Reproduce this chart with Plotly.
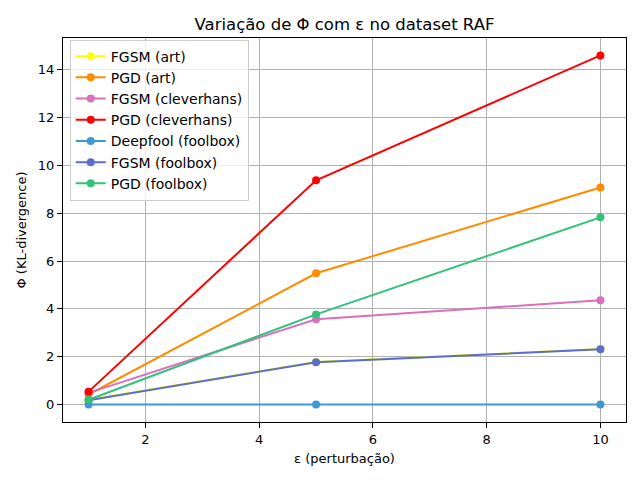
import plotly.graph_objects as go

# epsilon values (x axis)
eps = [1, 5, 10]

series_names = [
    "FGSM (art)",
    "PGD (art)",
    "FGSM (cleverhans)",
    "PGD (cleverhans)",
    "Deepfool (foolbox)",
    "FGSM (foolbox)",
    "PGD (foolbox)",
]

fgsm_art = [0.2, 1.78, 2.32]
pgd_art = [0.42, 5.49, 9.08]
fgsm_cleverhans = [0.49, 3.57, 4.36]
pgd_cleverhans = [0.54, 9.38, 14.6]
deepfool_foolbox = [0.0, 0.0, 0.0]
fgsm_foolbox = [0.18, 1.77, 2.31]
pgd_foolbox = [0.2, 3.77, 7.83]

series_values = [
    fgsm_art, pgd_art, fgsm_cleverhans, pgd_cleverhans,
    deepfool_foolbox, fgsm_foolbox, pgd_foolbox,
]
colors = ["#ffff00", "#ff8c00", "#da6fbf", "#ff0000", "#3f98d4", "#5b6dcd", "#33c27a"]

fig = go.Figure()
for name, vals, col in zip(series_names, series_values, colors):
    fig.add_trace(go.Scatter(
        x=eps, y=vals, name=name, mode="lines+markers",
        line=dict(color=col, width=2),
        marker=dict(color=col, size=8),
    ))

axis_common = dict(
    showline=True, linecolor="black", linewidth=1, mirror=True,
    ticks="outside", ticklen=5, tickcolor="black",
    showgrid=True, gridcolor="#b0b0b0", gridwidth=1, zeroline=False,
    tickfont=dict(size=13, color="black"), automargin=False,
)

# page body adds ~8px offset, so margins are shifted to compensate
fig.update_layout(
    width=640, height=480,
    font=dict(family="DejaVu Sans", color="black"),
    title=dict(text="Variação de Φ com ε no dataset RAF", xref="paper", x=0.5, xanchor="center",
               y=0.967, yanchor="middle", font=dict(size=16.5)),
    xaxis=dict(title=dict(text="ε (perturbação)", font=dict(size=13), standoff=8),
               range=[0.55, 10.45], tickvals=[2, 4, 6, 8, 10], **axis_common),
    yaxis=dict(title=dict(text="Φ (KL-divergence)", font=dict(size=13), standoff=8),
               range=[-0.73, 15.33], tickvals=[0, 2, 4, 6, 8, 10, 12, 14], **axis_common),
    legend=dict(x=0.012, y=0.996, xanchor="left", yanchor="top",
                bgcolor="rgba(255,255,255,0.8)", bordercolor="#cccccc", borderwidth=1,
                font=dict(size=14), tracegroupgap=0, itemwidth=30),
    plot_bgcolor="white", paper_bgcolor="white",
    margin=dict(l=55, r=22, t=30, b=66),
)

fig.write_html("out.html")
